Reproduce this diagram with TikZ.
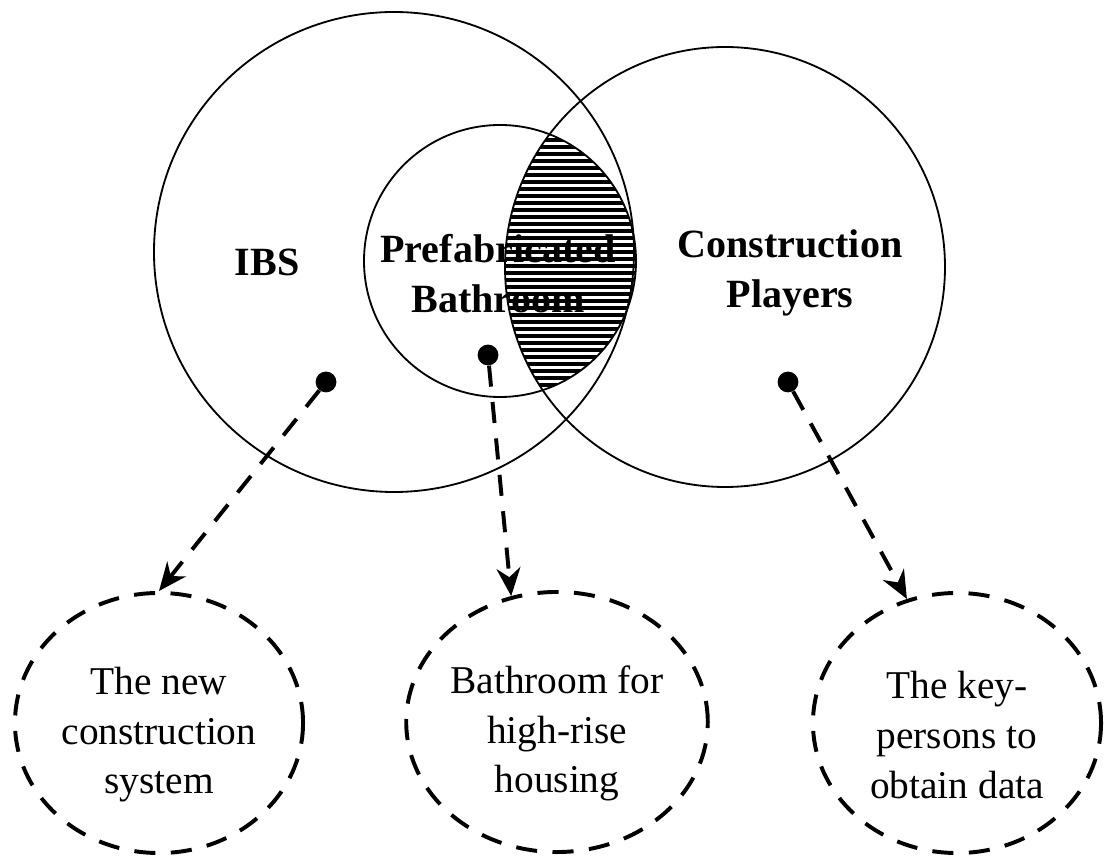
\documentclass[tikz,border=0pt]{standalone}
\usepackage{fontspec}
\setmainfont{Liberation Serif}
\usetikzlibrary{shapes.geometric,arrows.meta}

\tikzset{
  setline/.style={line width=1.3pt},
  dot/.style={circle, fill=black, inner sep=0pt, minimum size=0.52cm},
  setlabel/.style={font=\bfseries\fontsize{28.5}{35.5}\selectfont, align=center},
  target/.style={ellipse, draw, dash pattern=on 15pt off 11pt, line width=2.8pt,
    minimum width=7.2cm, minimum height=6.5cm, inner sep=0pt, align=center,
    text height=107pt, font=\fontsize{28}{35.5}\selectfont},
  link/.style={->, dash pattern=on 15pt off 11pt, line width=2.8pt},
}

\begin{document}
\begin{tikzpicture}[x=0.025cm, y=0.025cm, >={Stealth[length=20pt, width=17pt]}]
  \useasboundingbox (0,0) rectangle (1104,855);

  % Sets
  \coordinate (ibsC) at (394,603);
  \coordinate (bathC) at (500,594);
  \coordinate (cpC) at (725,588);
  \draw[setline] (ibsC) circle (240);
  \draw[setline] (cpC) circle (220);
  \draw[setline] (bathC) circle (136);

  % Set names
  \node[setlabel] (ibs) at (267,593) {IBS};
  \node[setlabel] (bath) at (498,581) {Prefabricated\\Bathroom};
  \node[setlabel] (cp) at (790,582) {Construction\\Players};

  % Overlap of bathroom and players
  \begin{scope}
    \clip (bathC) circle (136);
    \clip (cpC) circle (220);
    \foreach \y in {456,463,...,728}
      \draw[line width=2.4pt] (470,\y) -- (660,\y);
  \end{scope}

  % Points
  \node[dot] (ibsdot) at (326,473) {};
  \node[dot] (bathdot) at (488,500) {};
  \node[dot] (cpdot) at (788,473) {};

  % Meanings
  \node[target] (newsys) at (159,132) {The new\\construction\\system};
  \node[target] (highrise) at (557,133) {Bathroom for\\high-rise\\housing};
  \node[target] (keyp) at (957,132) {The key-\\persons to\\obtain data};

  % Links
  \draw[link] (ibsdot) -- (newsys.north);
  \draw[link] (bathdot) -- (highrise.110);
  \draw[link] (cpdot) -- (keyp.112);
\end{tikzpicture}
\end{document}
